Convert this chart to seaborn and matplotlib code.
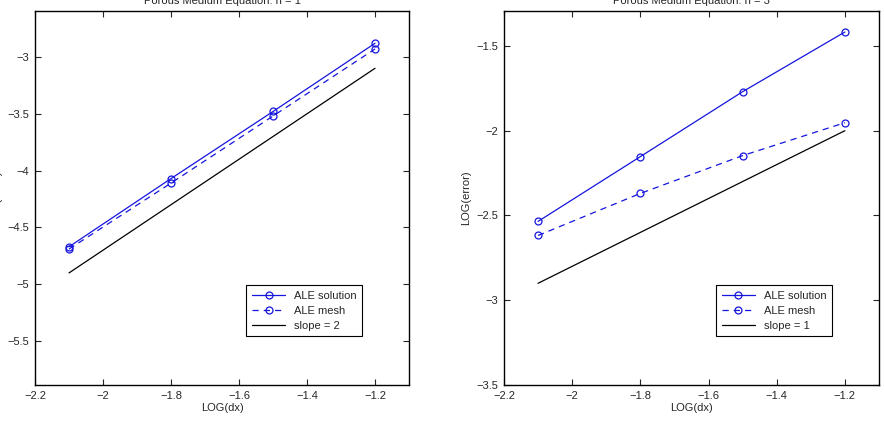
import matplotlib
matplotlib.use("Agg")
import matplotlib.pyplot as plt
import seaborn as sns
import pandas as pd

# datos
log_dx = [-2.1, -1.8, -1.5, -1.2]

sol_n1 = [-4.67, -4.07, -3.48, -2.88]
mesh_n1 = [-4.69, -4.11, -3.52, -2.93]
slope_n1 = [-4.9, -4.3, -3.7, -3.1]

sol_n3 = [-2.535, -2.153, -1.77, -1.418]
mesh_n3 = [-2.618, -2.37, -2.147, -1.953]
slope_n3 = [-2.9, -2.6, -2.3, -2.0]

xticks = [-2.2, -2.0, -1.8, -1.6, -1.4, -1.2]

sns.set_style("ticks")
plt.rcParams['font.family'] = ['Liberation Sans', 'DejaVu Sans']
plt.rcParams['xtick.direction'] = 'in'
plt.rcParams['ytick.direction'] = 'in'
plt.rcParams['xtick.top'] = True
plt.rcParams['ytick.right'] = True

fig = plt.figure(figsize=(8.84, 4.26), dpi=100)
ax1 = fig.add_axes([0.0396, 0.0962, 0.4231, 0.878])
ax2 = fig.add_axes([0.5701, 0.0962, 0.4242, 0.878])

panels = [
    (ax1, sol_n1, mesh_n1, slope_n1, "slope = 2", "Porous Medium Equation: n = 1",
     (-5.886, -2.596), [-5.5, -5, -4.5, -4, -3.5, -3]),
    (ax2, sol_n3, mesh_n3, slope_n3, "slope = 1", "Porous Medium Equation: n = 3",
     (-3.5, -1.294), [-3.5, -3, -2.5, -2, -1.5]),
]

blue = '#1515dd'
for ax, sol, mesh, slope, slab, title, ylim, yticks in panels:
    sns.lineplot(x=log_dx, y=sol, ax=ax, color=blue, lw=0.9, marker='o',
                 markersize=5, markerfacecolor='none', markeredgecolor=blue,
                 markeredgewidth=0.9, label="ALE solution")
    sns.lineplot(x=log_dx, y=mesh, ax=ax, color=blue, lw=0.9,
                 linestyle=(0, (5, 4)), marker='o', markersize=5,
                 markerfacecolor='none', markeredgecolor=blue,
                 markeredgewidth=0.9, label="ALE mesh")
    sns.lineplot(x=log_dx, y=slope, ax=ax, color='black', lw=0.9, label=slab)
    ax.set_xlim(-2.2, -1.1)
    ax.set_ylim(*ylim)
    ax.set_xticks(xticks)
    ax.set_xticklabels([f"{t:g}".replace('-', '\u2212') for t in xticks])
    ax.set_yticks(yticks)
    ax.set_yticklabels([f"{t:g}".replace('-', '\u2212') for t in yticks])
    ax.tick_params(labelsize=8, length=4, width=0.8, pad=4)
    for sp in ax.spines.values():
        sp.set_linewidth(1.0)
        sp.set_color('black')
    ax.set_xlabel("LOG(dx)", fontsize=8, labelpad=2)
    ax.set_ylabel("LOG(error)", fontsize=8, labelpad=4)
    ax.set_title(title, fontsize=8, pad=5)
    leg = ax.legend(loc='lower right', bbox_to_anchor=(0.89, 0.115), fontsize=8,
                    frameon=True, fancybox=False, framealpha=1, edgecolor='black',
                    handlelength=3.0, borderpad=0.5, labelspacing=0.45)
    leg.get_frame().set_linewidth(0.8)

fig.savefig("out.png", dpi=100)
